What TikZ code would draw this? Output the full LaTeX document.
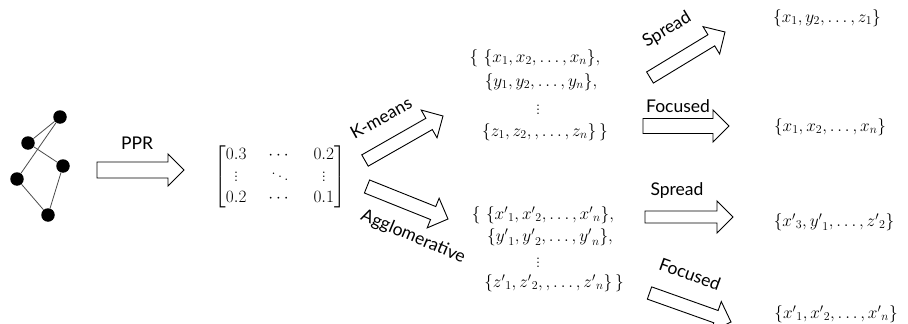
\documentclass[tikz,border=0pt]{standalone}
\usepackage{amsmath}
\usepackage{fontspec}
\setsansfont{Lato}
\usetikzlibrary{calc}
\newcommand\blockarr[3]{%
  \coordinate (hb) at ($(#2)!16pt!(#1)$);
  \draw[barrow] ($(#1)!#3!90:(#2)$) -- ($(hb)!#3!90:(#2)$) -- ($(hb)!16pt!90:(#2)$) -- (#2)
    -- ($(hb)!16pt!-90:(#2)$) -- ($(hb)!#3!-90:(#2)$) -- ($(#1)!#3!-90:(#2)$) -- cycle;}
\begin{document}
\begin{tikzpicture}[x=1pt,y=-1pt,
  gnode/.style={circle,fill=black,minimum size=13.5pt,inner sep=0pt},
  gedge/.style={draw=black!70,line width=0.8pt},
  barrow/.style={draw=black,line width=0.9pt,fill=white,line join=miter},
  lbl/.style={font=\sffamily\fontsize{17.5}{20}\selectfont,inner sep=0pt},
  mth/.style={font=\fontsize{18}{21}\selectfont,inner sep=0pt}]
\useasboundingbox (0,0) rectangle (908,324);
% graph
\node[gnode] (g1) at (60,117) {};
\node[gnode] (g2) at (28,143) {};
\node[gnode] (g3) at (63,166) {};
\node[gnode] (g4) at (17,179) {};
\node[gnode] (g5) at (48,215) {};
\draw[gedge] (g1) -- (g2);
\draw[gedge] (g1) -- (g4);
\draw[gedge] (g2) -- (g3);
\draw[gedge] (g4) -- (g5);
\draw[gedge] (g3) -- (g5);
% arrows
\coordinate (pprT) at (97,170); \coordinate (pprP) at (184,170);
\blockarr{pprT}{pprP}{8pt}
\coordinate (kmT) at (365,160.5); \coordinate (kmP) at (443,116);
\blockarr{kmT}{kmP}{6.5pt}
\coordinate (agT) at (367,186.5); \coordinate (agP) at (448,219);
\blockarr{agT}{agP}{7pt}
\coordinate (s1T) at (650,77.5); \coordinate (s1P) at (725,32);
\blockarr{s1T}{s1P}{6.5pt}
\coordinate (f1T) at (643,126); \coordinate (f1P) at (729,126);
\blockarr{f1T}{f1P}{7.5pt}
\coordinate (s2T) at (645,217); \coordinate (s2P) at (733,217);
\blockarr{s2T}{s2P}{6pt}
\coordinate (f2T) at (649.5,293); \coordinate (f2P) at (731,322);
\blockarr{f2T}{f2P}{6.5pt}
% labels
\node[lbl] (lppr) at (137,143) {PPR};
\node[lbl,rotate=29] (lkm) at (381,118) {K-means};
\node[lbl,rotate=-23] (lag) at (413,237) {Agglomerative};
\node[lbl,rotate=31] (ls1) at (667,30) {Spread};
\node[lbl] (lf1) at (678,106) {Focused};
\node[lbl] (ls2) at (677,191) {Spread};
\node[lbl,rotate=-20] (lf2) at (690,274) {Focused};
% matrix
\node[mth] (mat) at (280,177) {\setlength\arraycolsep{11pt}$\begin{bmatrix} 0.3 & \cdots & 0.2\\ \vdots & \ddots & \vdots \\ 0.2 & \cdots & 0.1\end{bmatrix}$};
% upper group
\node[mth] (u1) at (535,58) {$\{\ \{x_1, x_2, \dots, x_n\},$};
\node[mth] (u2) at (541,82) {$\{y_1, y_2, \dots, y_n\},$};
\node[mth] (u3) at (538,107) {$\vdots$};
\node[mth] (u4) at (545,132) {$\{z_1, z_2, , \dots, z_n\}\,\}$};
% lower group
\node[mth] (l1) at (543,215) {$\{\ \{{x'}_1, {x'}_2, \dots, {x'}_n\},$};
\node[mth] (l2) at (550,237) {$\{{y'}_1, {y'}_2, \dots, {y'}_n\},$};
\node[mth] (l3) at (538,260) {$\vdots$};
\node[mth] (l4) at (554,283) {$\{{z'}_1, {z'}_2, , \dots, {z'}_n\}\,\}$};
% results
\node[mth] (r1) at (827,18) {$\{x_1, y_2, \dots, z_1\}$};
\node[mth] (r2) at (830,127) {$\{x_1, x_2, \dots, x_n\}$};
\node[mth] (r3) at (834,222) {$\{{x'}_3, {y'}_1, \dots, {z'}_2\}$};
\node[mth] (r4) at (836,314) {$\{{x'}_1, {x'}_2, \dots, {x'}_n\}$};
\end{tikzpicture}
\end{document}
